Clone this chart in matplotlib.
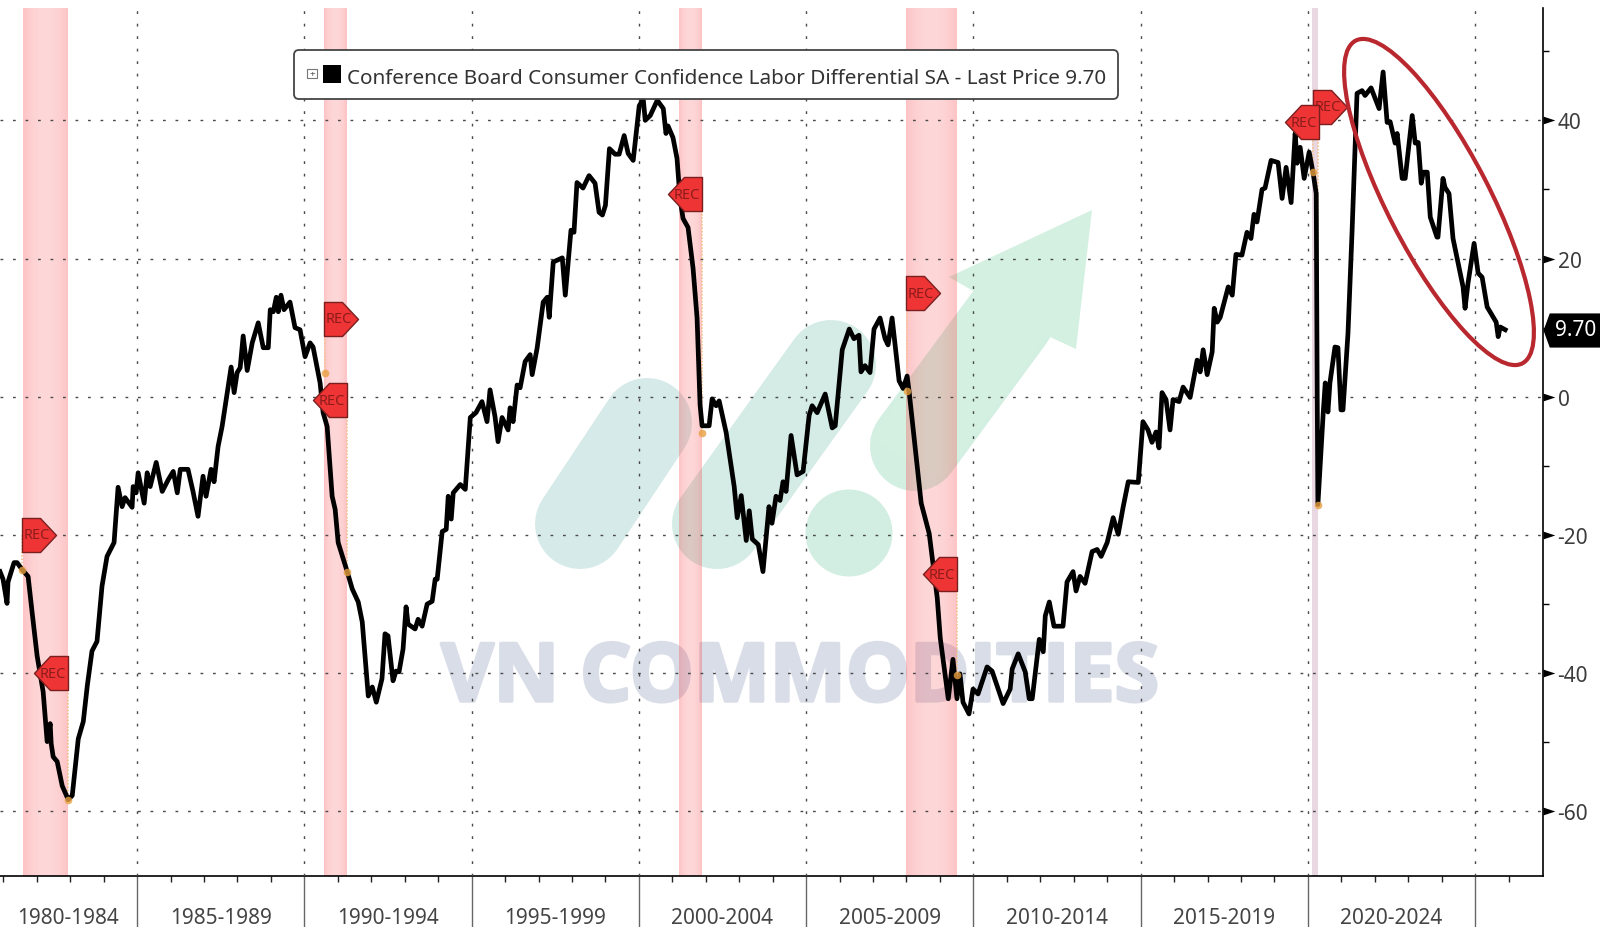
import numpy as np
import matplotlib
matplotlib.use("Agg")
import matplotlib.pyplot as plt
import matplotlib.patheffects as pe
from matplotlib.path import Path
from matplotlib.patches import Ellipse, FancyBboxPatch, Polygon, Circle, Rectangle
from matplotlib.transforms import Affine2D, blended_transform_factory

W, H = 1600, 928
plt.rcParams['font.family'] = ['Noto Sans', 'DejaVu Sans']

# ---------- data ----------
years = [1980.90,1980.99,1981.11,1981.14,1981.32,1981.41,1981.56,1981.74,1981.86,1982.01,1982.19,1982.31,1982.40,1982.43,1982.49,1982.61,1982.76,1982.94,1983.06,1983.24,1983.39,1983.51,1983.65,1983.80,1983.95,1984.10,1984.31,1984.43,
1984.55,1984.64,1984.85,1984.88,1984.97,1985.03,1985.21,1985.30,1985.39,1985.57,1985.75,1985.93,1986.08,1986.20,1986.29,1986.52,1986.67,1986.82,1986.97,1987.06,1987.21,1987.30,1987.42,1987.54,1987.72,1987.81,1987.90,1987.99,1988.08,1988.17,1988.29,1988.44,1988.62,1988.77,1988.92,1988.98,1989.07,1989.16,1989.22,1989.30,1989.39,1989.57,1989.72,1989.87,1990.02,1990.17,1990.26,1990.38,1990.47,1990.56,1990.68,1990.83,1990.92,1991.01,
1991.28,1991.43,1991.61,1991.73,1991.91,1992.03,1992.15,1992.32,1992.41,1992.50,1992.65,1992.74,1992.83,1992.95,1993.04,1993.10,1993.31,1993.40,1993.52,1993.67,1993.82,1993.91,1993.97,1994.12,1994.24,1994.30,1994.39,1994.45,1994.66,1994.81,1994.96,1995.13,1995.31,1995.46,1995.55,1995.70,1995.79,1995.91,1996.09,1996.15,1996.24,1996.36,
1996.45,1996.60,1996.75,1996.81,1996.96,1997.14,1997.26,1997.32,1997.44,1997.71,1997.80,1997.97,1998.06,1998.15,1998.33,1998.51,1998.69,1998.81,1998.91,1999.00,1999.12,1999.29,1999.41,1999.56,1999.68,1999.83,2000.01,2000.13,2000.19,2000.34,2000.55,2000.73,2000.81,2000.87,2001.02,2001.14,2001.23,2001.32,2001.47,2001.62,2001.74,2001.83,
2001.89,2002.10,2002.19,2002.31,2002.40,2002.61,2002.85,2002.94,2003.06,2003.21,2003.30,2003.39,2003.57,2003.71,2003.89,2003.98,2004.10,2004.22,2004.31,2004.40,2004.55,2004.73,2004.91,2005.09,2005.18,2005.33,2005.57,2005.78,2005.87,2006.08,2006.29,2006.43,2006.58,2006.64,2006.76,2006.91,2007.03,2007.21,2007.36,2007.45,2007.57,2007.78,2007.90,2008.02,2008.08,2008.44,2008.68,2008.92,2009.01,2009.25,2009.39,2009.51,2009.60,2009.69,2009.87,2009.99,
2010.14,2010.41,2010.56,2010.89,2011.10,2011.16,2011.34,2011.55,2011.67,2011.76,2011.97,2012.09,2012.15,2012.27,2012.41,2012.68,2012.80,2012.98,2013.07,2013.19,2013.34,2013.55,2013.70,2013.82,2014.00,2014.18,2014.33,2014.48,2014.63,2014.93,2015.07,2015.22,2015.34,2015.46,2015.55,2015.64,2015.76,2015.88,2015.97,2016.15,2016.27,2016.48,2016.69,2016.78,2016.87,2016.99,2017.14,2017.20,2017.29,2017.38,2017.62,2017.74,2017.85,2018.03,2018.18,2018.30,2018.39,2018.48,2018.63,2018.72,2018.90,2019.11,2019.23,2019.35,2019.50,2019.62,2019.68,2019.77,2019.89,2020.04,2020.16,2020.25,2020.28,2020.30,2020.46,2020.52,2020.60,2020.66,2020.81,2020.90,2020.99,2021.05,2021.20,2021.32,2021.47,2021.62,2021.71,2021.89,2022.13,2022.25,2022.37,2022.46,2022.61,2022.67,2022.82,2022.91,2023.12,2023.21,2023.30,2023.39,2023.45,2023.57,2023.66,2023.86,2023.89,2024.04,2024.10,2024.22,2024.34,2024.64,2024.70,2024.79,2024.97,2025.09,2025.21,2025.36,2025.63,2025.69,2025.75,2025.90]
values = [-25.3,-26.4,-29.9,-26.8,-24.0,-24.0,-25.0,-26.0,-31.2,-37.5,-42.7,-49.9,-47.3,-50.2,-52.1,-52.8,-56.3,-58.3,-57.7,-49.5,-47.0,-41.8,-36.8,-35.4,-27.4,-23.1,-21.1,-13.1,
-15.9,-14.6,-16.0,-13.0,-13.9,-11.0,-15.4,-11.0,-13.0,-9.5,-13.7,-12.0,-10.8,-13.9,-10.5,-10.5,-13.7,-17.3,-11.5,-14.4,-10.5,-12.3,-7.2,-4.3,1.4,4.3,0.6,3.5,4.2,8.8,3.8,7.8,10.7,7.1,7.1,12.6,12.3,14.4,12.3,14.7,12.6,13.7,10.0,9.7,5.8,7.8,7.2,4.2,2.0,-2.3,-4.3,-14.4,-16.3,-21.1,
-25.3,-27.8,-29.7,-32.6,-43.3,-42.0,-44.2,-40.8,-34.3,-34.6,-41.1,-39.7,-39.8,-36.5,-30.4,-32.9,-33.6,-32.2,-33.2,-30.0,-29.6,-26.4,-26.4,-19.5,-19.2,-14.4,-17.7,-13.9,-12.7,-13.4,-3.0,-2.3,-0.7,-3.6,1.0,-2.9,-6.5,-3.0,-4.8,-1.6,-3.6,1.7,
1.3,5.1,6.1,3.2,7.1,13.7,14.4,11.5,19.5,20.1,14.7,24.1,23.8,31.0,30.2,32.0,30.9,26.7,26.3,27.7,35.9,35.1,35.1,37.8,35.2,34.2,42.1,43.1,40.0,40.7,42.9,41.7,38.1,39.2,37.5,34.5,28.7,25.8,24.5,18.6,11.4,-1.2,
-4.2,-4.2,-0.3,-1.3,-0.6,-5.2,-13.0,-17.5,-14.3,-20.8,-16.5,-20.6,-21.4,-25.3,-15.9,-18.3,-14.4,-15.0,-12.3,-13.7,-5.6,-11.3,-10.8,-2.7,-1.3,-2.3,0.4,-4.5,-4.2,6.8,9.8,8.4,8.9,3.6,4.5,3.5,9.8,11.4,8.4,7.5,11.4,2.3,1.2,3.0,0.7,-15.4,-19.8,-29.1,-34.9,-43.7,-38.0,-43.7,-40.1,-44.2,-45.9,-42.3,
-43.0,-39.1,-39.7,-44.4,-42.3,-39.4,-37.2,-39.8,-43.7,-43.7,-35.1,-36.9,-31.7,-29.7,-33.2,-33.2,-26.8,-25.3,-28.1,-26.0,-27.0,-22.4,-22.1,-23.1,-21.1,-17.5,-19.9,-15.9,-12.3,-12.4,-3.6,-4.8,-6.6,-5.1,-7.4,0.6,-0.4,-4.8,-0.4,-0.7,1.4,-0.1,5.3,3.6,6.8,3.2,6.5,12.8,10.8,11.5,15.9,14.7,20.6,20.5,23.8,22.9,26.4,25.3,30.0,30.2,34.2,33.9,28.7,33.2,28.1,38.1,33.8,36.1,31.6,35.4,32.3,29.4,0.0,-15.6,-2.3,2.0,-2.2,2.0,7.2,7.1,-1.9,-1.9,9.2,23.7,43.9,44.3,43.6,44.7,41.7,47.0,39.7,39.8,36.7,38.1,31.6,31.6,40.7,36.7,36.8,30.9,32.5,32.5,26.0,23.1,23.1,31.6,30.3,29.4,22.9,15.9,12.8,16.5,22.2,17.9,17.3,13.0,10.8,8.7,10.1,9.7]

rec_start = [1981.60, 1990.59, 2001.20, 2007.99, 2020.13]
rec_end   = [1982.92, 1991.25, 2001.87, 2009.49, 2020.30]

rec_flag_years  = [1981.56, 1982.94, 1990.59, 1991.28, 2001.89, 2007.99, 2009.51, 2020.16, 2020.34]
rec_flag_values = [-20.0, -40.0, 11.3, -0.5, 29.3, 15.0, -25.7, 42.0, 39.7]
rec_flag_right  = [True, False, True, False, False, True, False, True, False]
rec_dot_years   = [1981.56, 1982.94, 1990.62, 1991.28, 2001.89, 2008.02, 2009.51, 2020.16, 2020.30]
rec_dot_values  = [-25.0, -58.3, 3.5, -25.3, -5.2, 0.9, -40.3, 32.5, -15.6]

y_major = [-60, -40, -20, 0, 20, 40]
y_minor = [-50, -30, -10, 10, 30, 50]
period_bounds = [1985, 1990, 1995, 2000, 2005, 2010, 2015, 2020, 2025]
period_labels = ['1980-1984','1985-1989','1990-1994','1995-1999','2000-2004','2005-2009','2010-2014','2015-2019','2020-2024']
period_centers = [1982.94, 1987.5, 1992.5, 1997.5, 2002.5, 2007.5, 2012.5, 2017.5, 2022.5]
last_price = 9.70
legend_text = 'Conference Board Consumer Confidence Labor Differential SA - Last Price 9.70'

# ---------- figure ----------
YLIM = (-69.35, 56.33)
XLIM = (1980.90, 2027.03)
fig = plt.figure(figsize=(W/100, H/100), dpi=100, facecolor='white')
ax = fig.add_axes([0, 1-877/H, 1543/W, (877-8.5)/H])
ax.set_xlim(*XLIM)
ax.set_ylim(*YLIM)
ax.set_facecolor('white')
PX = Affine2D().scale(1, -1).translate(0, H)  # pixels from the top-left corner

# watermark, beneath everything else
wm = dict(transform=PX, solid_capstyle='round', lw=90*0.72, zorder=1, clip_on=False)
ax.plot([580, 647], [525, 424], color='#d6ebe9', **wm)
ax.plot([717, 831], [525, 366], color='#d4ece5', **wm)
ax.plot([915, 1010], [447, 318], color='#d3efe2', **wm)
ax.add_patch(Polygon([(1092, 211), (949, 278), (975, 293), (870, 440), (943, 480), (1048, 337), (1076, 350)],
                     closed=True, fc='#d3f0e1', ec='none', transform=PX, zorder=1))
ax.add_patch(Circle((849, 534), 43.5, fc='#d2eee2', ec='none', transform=PX, zorder=1))
ax.text(800, 681, 'VN COMMODITIES', transform=PX, ha='center', va='center', fontsize=58,
        fontweight='bold', color='#d9dde8', family='Open Sans', zorder=1.1,
        path_effects=[pe.withStroke(linewidth=2.5, foreground='#d9dde8')])

# recession bands with a gradient across them
for s, e in zip(rec_start, rec_end):
    narrow = e - s < 0.3
    t = np.linspace(-1, 1, 41)
    alpha = 0.20 + 0.10*t**2 if not narrow else np.full(t.shape, 0.22)
    rgba = np.zeros((1, t.size, 4))
    rgba[..., :3] = (0.62, 0.30, 0.48) if narrow else (0.98, 0.22, 0.24)
    rgba[..., 3] = alpha
    ax.imshow(rgba, extent=(s, e, YLIM[0], YLIM[1]), aspect='auto', zorder=2, interpolation='bilinear')
ax.set_xlim(*XLIM)
ax.set_ylim(*YLIM)

# dotted grid
grid = dict(color='#4a4a4a', lw=1.0, linestyle=(0, (2, 7)), zorder=3)
for v in y_major:
    ax.axhline(v, **grid)
for b in period_bounds:
    ax.axvline(b, **grid)

# orange guide lines and dots of the recession flags
for fx, fy, dx, dy in zip(rec_flag_years, rec_flag_values, rec_dot_years, rec_dot_values):
    ax.plot([dx, dx], [fy, dy], color='#f3c48f', lw=1.2, linestyle=(0, (1, 1)), zorder=3.5)

# the series
ax.plot(years, values, color='black', lw=3.4, solid_joinstyle='round', zorder=4,
        label='Conference Board Consumer Confidence Labor Differential SA')
ax.plot(rec_dot_years, rec_dot_values, 'o', ms=5.5, mfc='#e8a040', mec='none', alpha=0.8, zorder=4.5)

# REC flags
RIGHT = Path([(0, .5), (.53, .5), (1, 0), (.53, -.5), (0, -.5), (0, .5)], closed=True)
LEFT = Path([(0, .5), (-.53, .5), (-1, 0), (-.53, -.5), (0, -.5), (0, .5)], closed=True)
for i, (fx, fy, r) in enumerate(zip(rec_flag_years, rec_flag_values, rec_flag_right)):
    z = 5 + i*0.01
    ax.plot([fx], [fy], marker=RIGHT if r else LEFT, ms=49, mfc='#ee3434', mec='#7a1f1f', mew=1.0, zorder=z)
    ax.annotate('REC', (fx, fy), xytext=(15 if r else -15, 0), textcoords='offset pixels',
                ha='center', va='center', fontsize=10.5, color='#8c1c1c', zorder=z+0.001)

# ellipse annotation
ax.add_patch(Ellipse((1439, 203), 2*181.6, 2*51.2, angle=62.7, fc='none', ec='#b8282e', lw=3.0,
                     transform=PX, zorder=6, clip_on=False))

# legend box
ax.add_patch(FancyBboxPatch((299, 56), 814, 39, boxstyle='round,pad=5,rounding_size=5', fc='white',
                            ec='#444444', lw=1.3, transform=PX, zorder=7))
ax.add_patch(Rectangle((307, 70), 10, 9, fc='white', ec='#777777', lw=0.8, transform=PX, zorder=7.1))
ax.text(312, 74.5, '+', transform=PX, ha='center', va='center', fontsize=7, color='#555555', zorder=7.2)
ax.add_patch(Rectangle((323, 66), 18, 18, fc='black', ec='none', transform=PX, zorder=7.1))
ax.text(347, 79, legend_text, transform=PX, ha='left', va='center', fontsize=14.88, color='#333333', zorder=7.2)

# axes
for sp in ('left', 'top'):
    ax.spines[sp].set_visible(False)
for sp in ('right', 'bottom'):
    ax.spines[sp].set_color('black')
    ax.spines[sp].set_linewidth(1.2)
ax.yaxis.tick_right()
ax.set_yticks(y_major)
ax.set_yticklabels([str(v) for v in y_major])
ax.set_yticks(y_minor, minor=True)
ax.tick_params(axis='y', which='major', length=0, pad=10.5, labelsize=15, labelcolor='#3c3c3c')
ax.tick_params(axis='y', which='minor', length=4, width=1.0, color='black')
TRI = Path([(0, .33), (1, 0), (0, -.33), (0, .33)], closed=True)
ytr = blended_transform_factory(ax.transAxes, ax.transData)
ax.plot([1.0]*len(y_major), y_major, linestyle='none', marker=TRI, ms=17, mfc='black', mec='none',
        transform=ytr, clip_on=False, zorder=8)

ax.set_xticks(period_bounds)
ax.set_xticklabels([])
ax.set_xticks(np.arange(1981, 2027), minor=True)
ax.tick_params(axis='x', which='major', length=37, width=1.0, color='#666666')
ax.tick_params(axis='x', which='minor', length=4, width=1.0, color='#222222')
sec = ax.secondary_xaxis('bottom')
sec.set_xticks(period_centers)
sec.set_xticklabels(period_labels)
sec.tick_params(axis='x', length=0, pad=22.5, labelsize=15, labelcolor='#444444')
sec.spines['bottom'].set_visible(False)

# last-price tag
TAG = Path([(0, 0), (.11, .3), (1, .3), (1, -.3), (.11, -.3), (0, 0)], closed=True)
ax.plot([1.0], [last_price], marker=TAG, ms=82, mfc='black', mec='none', transform=ytr, clip_on=False, zorder=9)
ax.annotate(f'{last_price:.2f}', (1.0, last_price), xycoords=ytr, xytext=(33, 0), textcoords='offset pixels',
            ha='center', va='center', fontsize=15, color='white', zorder=10, annotation_clip=False)

fig.savefig('out.png', dpi=100, facecolor='white')
